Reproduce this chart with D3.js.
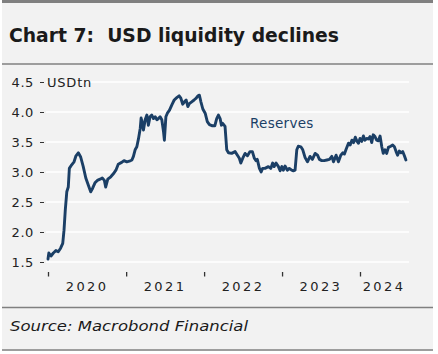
<!DOCTYPE html>
<html>
<head>
<meta charset="utf-8">
<script src="https://cdn.jsdelivr.net/npm/d3@7"></script>
<style>
  body { margin: 0; background: #ffffff; }
  svg { display: block; font-family: "DejaVu Sans", sans-serif; }
</style>
</head>
<body>
<div id="chart"></div>
<script>
// Fed reserves, USD tn
const dates = [
  "2020-01-01","2020-01-05","2020-01-15","2020-01-26","2020-02-07","2020-02-18","2020-02-29","2020-03-10",
  "2020-03-16","2020-03-22","2020-03-29","2020-04-05","2020-04-10","2020-04-21","2020-05-02","2020-05-11",
  "2020-05-22","2020-06-02","2020-06-14","2020-06-26","2020-07-08","2020-07-19","2020-07-28","2020-08-08",
  "2020-08-19","2020-09-01","2020-09-11","2020-09-21","2020-09-27","2020-10-07","2020-10-21","2020-11-02",
  "2020-11-14","2020-11-25","2020-12-11","2020-12-22","2021-01-04","2021-01-16","2021-01-28","2021-02-04",
  "2021-02-12","2021-02-20","2021-02-28","2021-03-08","2021-03-12","2021-03-18","2021-03-23","2021-03-31",
  "2021-04-08","2021-04-15","2021-04-23","2021-05-01","2021-05-09","2021-05-17","2021-05-25","2021-06-01",
  "2021-06-09","2021-06-17","2021-06-25","2021-06-29","2021-07-06","2021-07-13","2021-07-23","2021-08-03",
  "2021-08-14","2021-08-26","2021-09-06","2021-09-14","2021-09-23","2021-10-01","2021-10-09","2021-10-17",
  "2021-10-24","2021-11-04","2021-11-15","2021-11-25","2021-12-03","2021-12-10","2021-12-17","2021-12-26",
  "2022-01-06","2022-01-16","2022-01-26","2022-02-09","2022-02-20","2022-03-01","2022-03-09","2022-03-17",
  "2022-03-23","2022-03-29","2022-04-09","2022-04-17","2022-04-25","2022-05-10","2022-05-26","2022-06-06",
  "2022-06-15","2022-06-22","2022-07-01","2022-07-12","2022-07-23","2022-08-04","2022-08-15","2022-08-24",
  "2022-09-01","2022-09-07","2022-09-17","2022-09-25","2022-10-02","2022-10-13","2022-10-29","2022-11-09",
  "2022-11-18","2022-11-25","2022-12-04","2022-12-15","2022-12-23","2022-12-31","2023-01-07","2023-01-15",
  "2023-01-26","2023-02-04","2023-02-15","2023-02-23","2023-03-03","2023-03-11","2023-03-18","2023-03-30",
  "2023-04-08","2023-04-19","2023-04-30","2023-05-12","2023-05-23","2023-06-05","2023-06-16","2023-06-25",
  "2023-07-06","2023-07-17","2023-07-30","2023-08-11","2023-08-22","2023-08-30","2023-09-11","2023-09-22",
  "2023-10-03","2023-10-13","2023-10-20","2023-10-28","2023-11-08","2023-11-16","2023-11-24","2023-12-02",
  "2023-12-10","2023-12-18","2023-12-25","2024-01-01","2024-01-09","2024-01-17","2024-01-24","2024-02-01",
  "2024-02-09","2024-02-17","2024-02-25","2024-03-03","2024-03-11","2024-03-19","2024-03-27","2024-04-04",
  "2024-04-12","2024-04-19","2024-04-27","2024-05-05","2024-05-13","2024-05-24","2024-06-02","2024-06-10",
  "2024-06-18","2024-06-25","2024-07-03","2024-07-11","2024-07-19","2024-07-26","2024-08-03"
];
const reserves = [
  1.55,1.65,1.60,1.65,1.69,1.67,1.73,1.81,
  2.03,2.37,2.67,2.75,3.06,3.12,3.17,3.27,
  3.32,3.25,3.09,2.90,2.78,2.67,2.73,2.82,
  2.86,2.88,2.90,2.86,2.75,2.88,2.92,2.97,
  3.03,3.13,3.16,3.19,3.17,3.18,3.20,3.26,
  3.37,3.42,3.56,3.73,3.90,3.81,3.70,3.87,
  3.95,3.78,3.92,3.95,3.89,3.92,3.87,3.89,
  3.92,3.87,3.67,3.53,3.92,3.98,4.03,4.12,
  4.20,4.24,4.27,4.23,4.13,4.17,4.20,4.09,
  4.14,4.17,4.20,4.23,4.27,4.28,4.17,4.05,
  3.98,3.84,3.79,3.77,3.77,3.89,3.95,3.89,
  3.78,3.81,3.76,3.37,3.32,3.31,3.34,3.28,
  3.23,3.15,3.23,3.31,3.27,3.34,3.34,3.23,
  3.19,3.21,3.06,3.00,3.06,3.06,3.09,3.06,
  3.15,3.09,3.15,3.09,3.02,3.09,3.03,3.10,
  3.03,3.06,3.03,3.02,3.03,3.37,3.43,3.42,
  3.37,3.24,3.17,3.26,3.21,3.31,3.28,3.21,
  3.19,3.19,3.20,3.21,3.26,3.17,3.28,3.17,
  3.28,3.32,3.30,3.38,3.48,3.45,3.53,3.49,
  3.58,3.51,3.48,3.56,3.51,3.60,3.53,3.56,
  3.55,3.59,3.49,3.62,3.59,3.53,3.52,3.60,
  3.42,3.31,3.37,3.31,3.41,3.43,3.45,3.42,
  3.34,3.28,3.35,3.32,3.34,3.28,3.20
];
const yTicks = [1.5, 2.0, 2.5, 3.0, 3.5, 4.0, 4.5];
const years = [2020, 2021, 2022, 2023, 2024];

const title = "Chart 7:  USD liquidity declines";
const unitLabel = "USDtn";
const seriesLabel = "Reserves";
const source = "Source: Macrobond Financial";

const W = 438, H = 354;
const plot = { left: 46, right: 409, top: 82, bottom: 262 };
const navy = "#1b3f66";

const parse = d3.timeParse("%Y-%m-%d");
const data = dates.map((d, i) => ({ date: parse(d), value: reserves[i] }));

const svg = d3.select("#chart").append("svg")
    .attr("width", W)
    .attr("height", H);

// panel background + frame lines
svg.append("rect")
    .attr("x", 2).attr("y", 0)
    .attr("width", 431).attr("height", 351)
    .attr("fill", "#f2f2f2");
svg.append("rect")
    .attr("x", 2).attr("y", 0)
    .attr("width", 431).attr("height", 3)
    .attr("fill", "#808080");
[64, 307.5, 350].forEach(y => {
    svg.append("line")
        .attr("x1", 2).attr("x2", 433)
        .attr("y1", y).attr("y2", y)
        .attr("stroke", "#808080")
        .attr("stroke-width", 1.3);
});

svg.append("text")
    .attr("x", 9)
    .attr("y", 42)
    .attr("font-size", 20)
    .attr("font-weight", "bold")
    .attr("fill", "#1a1a1a")
    .attr("textLength", 330)
    .attr("lengthAdjust", "spacingAndGlyphs")
    .style("white-space", "pre")
    .text(title);

svg.append("text")
    .attr("x", 10)
    .attr("y", 331)
    .attr("font-size", 14.5)
    .attr("font-style", "italic")
    .attr("fill", "#1a1a1a")
    .attr("textLength", 238)
    .attr("lengthAdjust", "spacingAndGlyphs")
    .text(source);

// scales
const xScale = d3.scaleTime()
    .domain([new Date(2020, 0, 1), new Date(2024, 0, 1)])
    .range([48, 360]);

const yScale = d3.scaleLinear()
    .domain([1.5, 4.5])
    .range([plot.bottom, plot.top]);

// gridlines
svg.append("g")
    .selectAll("line")
    .data(yTicks)
    .enter()
    .append("line")
    .attr("x1", plot.left)
    .attr("x2", plot.right)
    .attr("y1", d => yScale(d))
    .attr("y2", d => yScale(d))
    .attr("stroke", "#ffffff")
    .attr("stroke-width", 1.5);

// y axis
const yAxis = svg.append("g")
    .attr("transform", "translate(44,0)")
    .call(d3.axisLeft(yScale).tickValues(yTicks).tickFormat(d3.format(".1f")).tickSize(4).tickPadding(6));
yAxis.select(".domain").remove();
yAxis.selectAll(".tick line").attr("stroke", "#333").attr("stroke-width", 1);
yAxis.selectAll(".tick text")
    .attr("font-size", 13)
    .attr("font-family", "DejaVu Sans")
    .attr("fill", "#222")
    .attr("letter-spacing", 0.6);

svg.append("text")
    .attr("x", 47)
    .attr("y", yScale(4.5))
    .attr("dy", "0.36em")
    .attr("font-size", 13)
    .attr("letter-spacing", 0.8)
    .attr("fill", "#222")
    .text(unitLabel);

// x axis: year boundary ticks, labels centred in each year
const xAxis = svg.append("g")
    .attr("transform", "translate(0," + 272 + ")")
    .call(d3.axisBottom(xScale).tickValues(years.map(y => new Date(y, 0, 1))).tickSize(4.5).tickFormat(""));
xAxis.select(".domain").remove();
xAxis.selectAll(".tick line").attr("stroke", "#333").attr("stroke-width", 1.3);

svg.append("g")
    .selectAll("text")
    .data(years)
    .enter()
    .append("text")
    .attr("x", d => Math.min(xScale(new Date(d, 6, 2)), plot.right - 4 - 21))
    .attr("y", 291)
    .attr("text-anchor", "middle")
    .attr("font-size", 13)
    .attr("letter-spacing", 2.4)
    .attr("fill", "#222")
    .text(d => d);

// series
const line = d3.line()
    .x(d => xScale(d.date))
    .y(d => yScale(d.value))
    .curve(d3.curveLinear);

svg.append("path")
    .datum(data)
    .attr("d", line)
    .attr("fill", "none")
    .attr("stroke", navy)
    .attr("stroke-width", 2.9)
    .attr("stroke-linejoin", "round")
    .attr("stroke-linecap", "round");

svg.append("text")
    .attr("x", 250)
    .attr("y", 128)
    .attr("font-size", 13.5)
    .attr("letter-spacing", 0.3)
    .attr("fill", navy)
    .text(seriesLabel);
</script>
</body>
</html>
